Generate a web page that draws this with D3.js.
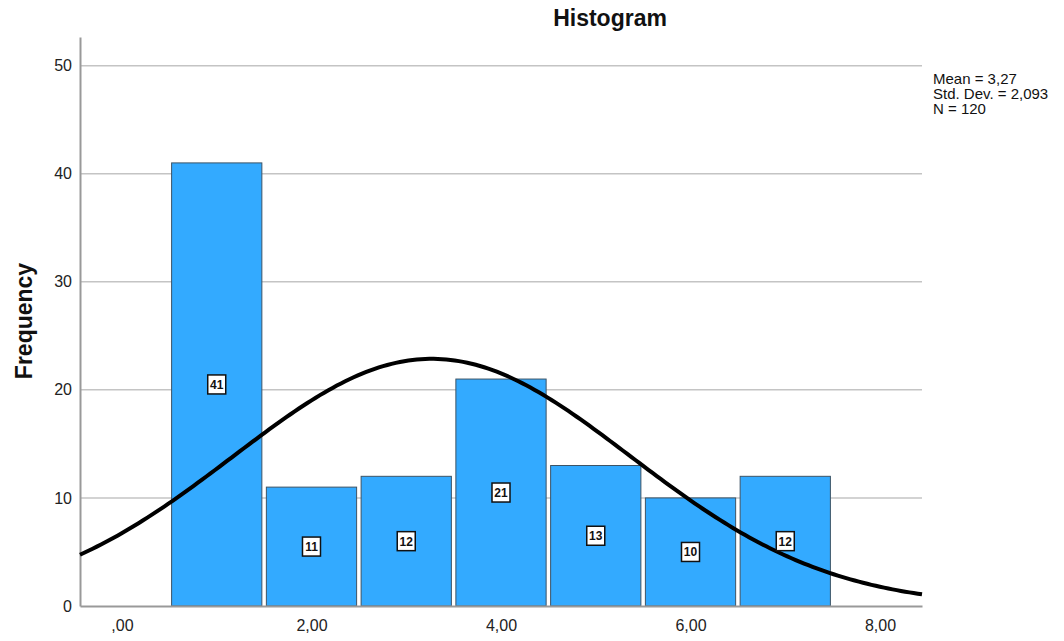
<!DOCTYPE html>
<html>
<head>
<meta charset="utf-8">
<script src="https://cdn.jsdelivr.net/npm/d3@7"></script>
<style>
  html, body { margin: 0; padding: 0; background: #fff; }
  svg { display: block; font-family: Arial, "Liberation Sans", sans-serif; }
</style>
</head>
<body>
<svg id="chart" width="1064" height="641"></svg>
<script>
// ---- data ----
const binCenters = [1, 2, 3, 4, 5, 6, 7];
const frequencies = [41, 11, 12, 21, 13, 10, 12];
const binWidth = 1;
const xTickValues = [0, 2, 4, 6, 8];
const yTickValues = [0, 10, 20, 30, 40, 50];
const statLines = ["Mean = 3,27", "Std. Dev. = 2,093", "N = 120"];
const stats = { mean: 3.27, sd: 2.093, n: 120 };

// ---- layout ----
const svg = d3.select("#chart");
const plotL = 80, plotR = 922, plotT = 37, plotB = 606;

const x = d3.scaleLinear().domain([-0.443, 8.443]).range([plotL, plotR]);
const y = d3.scaleLinear().domain([0, 52.65]).range([plotB, plotT]);

const fmt = v => d3.format(".2f")(v).replace(".", ",").replace(/^0,/, ",");

// gridlines
svg.append("g").selectAll("line")
  .data(yTickValues.filter(d => d > 0))
  .join("line")
  .attr("x1", plotL).attr("x2", plotR)
  .attr("y1", d => y(d)).attr("y2", d => y(d))
  .attr("stroke", "#c4c4c4").attr("stroke-width", 1.5);

// bars
const gap = 4.5;
svg.append("g").selectAll("rect")
  .data(binCenters)
  .join("rect")
  .attr("x", (d) => x(d - binWidth / 2) + gap / 2)
  .attr("width", (d) => x(d + binWidth / 2) - x(d - binWidth / 2) - gap)
  .attr("y", (d, i) => y(frequencies[i]))
  .attr("height", (d, i) => y(0) - y(frequencies[i]))
  .attr("fill", "#33aaff")
  .attr("stroke", "#3d5466")
  .attr("stroke-width", 1);

// axes
const yAxis = d3.axisLeft(y).tickValues(yTickValues).tickSize(0).tickPadding(8);
const gy = svg.append("g").attr("transform", `translate(${plotL},0)`).call(yAxis);
gy.select(".domain").attr("stroke", "#999").attr("stroke-width", 2);
gy.selectAll("text").attr("font-size", 16).attr("fill", "#222").attr("font-family", "Arial, 'Liberation Sans', sans-serif");

const xAxis = d3.axisBottom(x).tickValues(xTickValues).tickSize(0).tickPadding(14).tickFormat(fmt);
const gx = svg.append("g").attr("transform", `translate(0,${plotB})`).call(xAxis);
gx.select(".domain").attr("stroke", "#999").attr("stroke-width", 2);
gx.selectAll("text").attr("font-size", 16).attr("fill", "#222").attr("font-family", "Arial, 'Liberation Sans', sans-serif");

// normal curve
const pdf = v => stats.n * binWidth / (stats.sd * Math.sqrt(2 * Math.PI)) *
  Math.exp(-0.5 * Math.pow((v - stats.mean) / stats.sd, 2));
const curvePts = d3.range(0, 201).map(i => {
  const v = x.domain()[0] + (x.domain()[1] - x.domain()[0]) * i / 200;
  return [v, pdf(v)];
});
svg.append("path")
  .datum(curvePts)
  .attr("d", d3.line().x(d => x(d[0])).y(d => y(d[1])))
  .attr("fill", "none").attr("stroke", "#000").attr("stroke-width", 4);

// bar value labels
const lab = svg.append("g");
binCenters.forEach((c, i) => {
  const cx = x(c), cy = y(frequencies[i] / 2);
  lab.append("rect")
    .attr("x", cx - 9).attr("y", cy - 9.5).attr("width", 18).attr("height", 19)
    .attr("fill", "#fff").attr("stroke", "#111").attr("stroke-width", 1.5);
  lab.append("text")
    .attr("x", cx).attr("y", cy + 4.5)
    .attr("text-anchor", "middle")
    .attr("font-size", 12).attr("font-weight", "bold").attr("fill", "#111")
    .text(frequencies[i]);
});

// title
svg.append("text")
  .attr("x", 610).attr("y", 26)
  .attr("text-anchor", "middle")
  .attr("font-size", 23).attr("font-weight", "bold").attr("fill", "#111")
  .text("Histogram");

// y label
svg.append("text")
  .attr("transform", `translate(32,321) rotate(-90)`)
  .attr("text-anchor", "middle")
  .attr("font-size", 23).attr("font-weight", "bold").attr("fill", "#111")
  .text("Frequency");

// stats
svg.append("g").selectAll("text")
  .data(statLines)
  .join("text")
  .attr("x", 933).attr("y", (d, i) => 83.5 + i * 15)
  .attr("font-size", 15).attr("fill", "#111")
  .text(d => d);
</script>
</body>
</html>
